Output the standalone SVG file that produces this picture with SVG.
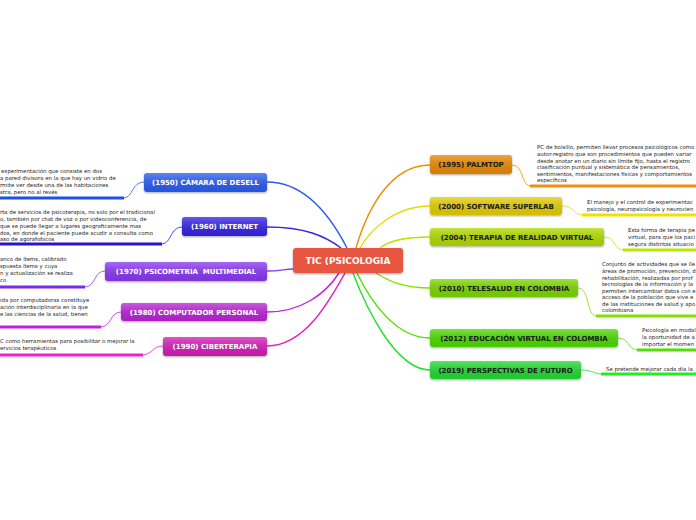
<svg xmlns="http://www.w3.org/2000/svg" width="696" height="520" viewBox="0 0 696 520">
<defs>
<linearGradient id="gw" x1="0" y1="0" x2="0" y2="1">
<stop offset="0" stop-color="#fff" stop-opacity="0.25"/>
<stop offset="1" stop-color="#000" stop-opacity="0.08"/>
</linearGradient>
<filter id="sh" x="-10%" y="-30%" width="120%" height="170%">
<feDropShadow dx="0" dy="1" stdDeviation="0.8" flood-color="#000" flood-opacity="0.35"/>
</filter>
</defs>
<style>
.n{font-family:"DejaVu Sans",Verdana,sans-serif;font-weight:bold;font-size:7px;}
.w{fill:#fff}
.k{fill:#1a1a1a}
.d{font-family:"DejaVu Sans",Verdana,sans-serif;font-size:5.4px;fill:#222}
.c{fill:none;stroke-width:1.4}
.u{fill:none;stroke-width:3}
.t{fill:none;stroke-width:0.8}
</style>
<rect width="696" height="520" fill="#fff"/>
<g id="connectors">
<path class="c" stroke="#2b5cf2" d="M267,182 C305,182 330,215 347,248"/>
<path class="c" stroke="#3420e6" d="M267,227 C305,227 325,236 341,248"/>
<path class="c" stroke="#8a38f2" d="M267,271 C280,271 285,269 293,269"/>
<path class="c" stroke="#c020dc" d="M267,312 C300,312 325,295 339,273"/>
<path class="c" stroke="#e020c0" d="M267,346 C305,346 330,300 345,273"/>
<path class="c" stroke="#f08c00" d="M430,165 C390,165 367,210 356,248"/>
<path class="c" stroke="#ecd800" d="M430,206 C395,206 370,230 360,248"/>
<path class="c" stroke="#b8e400" d="M430,237 C405,237 390,240 380,248"/>
<path class="c" stroke="#80e000" d="M430,288 C405,288 390,282 376,273"/>
<path class="c" stroke="#4ee000" d="M430,338 C395,338 370,300 357,273"/>
<path class="c" stroke="#22e030" d="M430,370 C395,370 365,305 353,273"/>
<path class="t" stroke="#2b5cf2" d="M144,182 C132,182 133,197 124,198"/>
<path class="u" stroke="#1f50e8" d="M0,198 H124"/>
<path class="t" stroke="#3420e6" d="M182,227 C170,227 172,243 162,244"/>
<path class="u" stroke="#2a12d8" d="M0,244 H162"/>
<path class="t" stroke="#8a38f2" d="M105,271 C94,271 96,286 85,287"/>
<path class="u" stroke="#7a2af0" d="M0,287 H85"/>
<path class="t" stroke="#c020dc" d="M121,312 C110,312 112,326 101,327"/>
<path class="u" stroke="#c020e0" d="M0,327 H101"/>
<path class="t" stroke="#e020c0" d="M163,346 C152,346 153,354 143,355"/>
<path class="u" stroke="#f020c8" d="M0,355 H143"/>
<path class="t" stroke="#f08c00" d="M512,165 C524,165 521,185 530,186"/>
<path class="u" stroke="#f0900a" d="M530,186 H696"/>
<path class="t" stroke="#ecd800" d="M562,206 C574,206 573,214 582,215"/>
<path class="u" stroke="#f0e000" d="M582,215 H696"/>
<path class="t" stroke="#b8e400" d="M604,237 C615,237 614,249 623,250"/>
<path class="u" stroke="#b8e800" d="M623,250 H696"/>
<path class="t" stroke="#80e000" d="M578,288 C590,288 586,315 596,316"/>
<path class="u" stroke="#80e000" d="M596,316 H696"/>
<path class="t" stroke="#4ee000" d="M618,338 C629,338 628,349 637,350"/>
<path class="u" stroke="#50e000" d="M637,350 H696"/>
<path class="t" stroke="#22e030" d="M581,370 C592,370 592,373 601,374"/>
<path class="u" stroke="#22ee22" d="M601,374 H696"/>
</g>
<g id="center">
<rect x="293" y="248" width="110" height="25" rx="3" fill="#e8553f" filter="url(#sh)"/>
<text class="n w" x="348" y="264" text-anchor="middle" style="font-size:9px">TIC (PSICOLOGIA</text>
</g>
<g id="n1950">
<rect x="144" y="173" width="123" height="19" rx="3" fill="#2b5cf2" filter="url(#sh)"/>
<rect x="144" y="173" width="123" height="19" rx="3" fill="url(#gw)"/>
<text class="n w" x="205.5" y="185" text-anchor="middle">(1950) CÁMARA DE DESELL</text>
<text class="d" x="1" y="173">experimentación que consiste en dos</text>
<text class="d" x="0" y="180">a pared divisora en la que hay un vidrio de</text>
<text class="d" x="0" y="187">rmite ver desde una de las habitaciones</text>
<text class="d" x="0" y="194">stra, pero no al revés</text>
</g>
<g id="n1960">
<rect x="182" y="217" width="85" height="19" rx="3" fill="#3420e6" filter="url(#sh)"/>
<rect x="182" y="217" width="85" height="19" rx="3" fill="url(#gw)"/>
<text class="n w" x="224.5" y="229" text-anchor="middle">(1960) INTERNET</text>
<text class="d" x="0" y="214">rta de servicios de psicoterapia, no solo por el tradicional</text>
<text class="d" x="0" y="221">o, también por chat de voz o por videoconferencia, de</text>
<text class="d" x="0" y="228">que se puede llegar a lugares geograficamente mas</text>
<text class="d" x="0" y="235">dos, en donde el paciente puede acudir a consulta como</text>
<text class="d" x="0" y="241">aso de agorafobicos</text>
</g>
<g id="n1970">
<rect x="105" y="262" width="162" height="19" rx="3" fill="#8a38f2" filter="url(#sh)"/>
<rect x="105" y="262" width="162" height="19" rx="3" fill="url(#gw)"/>
<text class="n w" x="186" y="274" text-anchor="middle" xml:space="preserve">(1970) PSICOMETRIA  MULTIMEDIAL</text>
<text class="d" x="0" y="261">anco de ítems, calibrado</text>
<text class="d" x="0" y="268">spuesta ítems y cuya</text>
<text class="d" x="0" y="275">n y actualización se realiza</text>
<text class="d" x="0" y="282">co</text>
</g>
<g id="n1980">
<rect x="121" y="303" width="146" height="18" rx="3" fill="#bb22d8" filter="url(#sh)"/>
<rect x="121" y="303" width="146" height="18" rx="3" fill="url(#gw)"/>
<text class="n w" x="194" y="315" text-anchor="middle">(1980) COMPUTADOR PERSONAL</text>
<text class="d" x="0" y="302">ida por computadoras constituye</text>
<text class="d" x="0" y="309">ación interdisciplinaria en la que</text>
<text class="d" x="0" y="316">e las ciencias de la salud, tienen</text>
</g>
<g id="n1990">
<rect x="163" y="337" width="104" height="19" rx="3" fill="#d61fb8" filter="url(#sh)"/>
<rect x="163" y="337" width="104" height="19" rx="3" fill="url(#gw)"/>
<text class="n w" x="215" y="349" text-anchor="middle">(1990) CIBERTERAPIA</text>
<text class="d" x="0" y="343">C como herramientas para posibilitar o mejorar la</text>
<text class="d" x="0" y="350">ervicios terapéuticos</text>
</g>
<g id="n1995">
<rect x="430" y="155" width="82" height="19" rx="3" fill="#ec8a00" filter="url(#sh)"/>
<rect x="430" y="155" width="82" height="19" rx="3" fill="url(#gw)"/>
<text class="n k" x="471" y="167" text-anchor="middle">(1995) PALMTOP</text>
<text class="d" x="537" y="149">PC de bolsillo, permiten llevar procesos psicológicos como</text>
<text class="d" x="537" y="156">autor-registro que son procedimientos que pueden variar</text>
<text class="d" x="537" y="163">desde anotar en un diario sin límite fijo, hasta el registro</text>
<text class="d" x="537" y="169">clasificación puntual y sistemática de pensamientos,</text>
<text class="d" x="537" y="176">sentimientos, manifestaciones físicas y comportamientos</text>
<text class="d" x="537" y="182">específicos</text>
</g>
<g id="n2000">
<rect x="430" y="197" width="132" height="18" rx="3" fill="#e6cf00" filter="url(#sh)"/>
<rect x="430" y="197" width="132" height="18" rx="3" fill="url(#gw)"/>
<text class="n k" x="496" y="209" text-anchor="middle">(2000) SOFTWARE SUPERLAB</text>
<text class="d" x="587" y="204">El manejo y el control de experimentac</text>
<text class="d" x="587" y="211">psicología, neuropsicología y neurocien</text>
</g>
<g id="n2004">
<rect x="430" y="228" width="174" height="18" rx="3" fill="#b2dc00" filter="url(#sh)"/>
<rect x="430" y="228" width="174" height="18" rx="3" fill="url(#gw)"/>
<text class="n k" x="517" y="240" text-anchor="middle">(2004) TERAPIA DE REALIDAD VIRTUAL</text>
<text class="d" x="628" y="232">Esta forma de terapia pe</text>
<text class="d" x="628" y="239">virtual, para que los paci</text>
<text class="d" x="628" y="246">segura distintas situacio</text>
</g>
<g id="n2010">
<rect x="430" y="279" width="148" height="18" rx="3" fill="#7cd800" filter="url(#sh)"/>
<rect x="430" y="279" width="148" height="18" rx="3" fill="url(#gw)"/>
<text class="n k" x="504" y="291" text-anchor="middle">(2010) TELESALUD EN COLOMBIA</text>
<text class="d" x="602" y="266">Conjunto de actividades que se lle</text>
<text class="d" x="602" y="273">áreas de promoción, prevención, d</text>
<text class="d" x="602" y="280">rehabilitación, realizadas por prof</text>
<text class="d" x="602" y="286">tecnologías de la información y la</text>
<text class="d" x="602" y="293">permiten intercambiar datos con e</text>
<text class="d" x="602" y="299">acceso de la población que vive e</text>
<text class="d" x="602" y="306">de las instituciones de salud y apo</text>
<text class="d" x="602" y="312">colombiana</text>
</g>
<g id="n2012">
<rect x="430" y="329" width="188" height="18" rx="3" fill="#4cdc00" filter="url(#sh)"/>
<rect x="430" y="329" width="188" height="18" rx="3" fill="url(#gw)"/>
<text class="n k" x="524" y="341" text-anchor="middle">(2012) EDUCACIÓN VIRTUAL EN COLOMBIA</text>
<text class="d" x="642" y="332">Psicología en modal</text>
<text class="d" x="642" y="339">la oportunidad de a</text>
<text class="d" x="642" y="346">importar el momen</text>
</g>
<g id="n2019">
<rect x="430" y="361" width="151" height="18" rx="3" fill="#22dc30" filter="url(#sh)"/>
<rect x="430" y="361" width="151" height="18" rx="3" fill="url(#gw)"/>
<text class="n k" x="505.5" y="373" text-anchor="middle">(2019) PERSPECTIVAS DE FUTURO</text>
<text class="d" x="606" y="371">Se pretende mejorar cada día la</text>
</g>
</svg>
